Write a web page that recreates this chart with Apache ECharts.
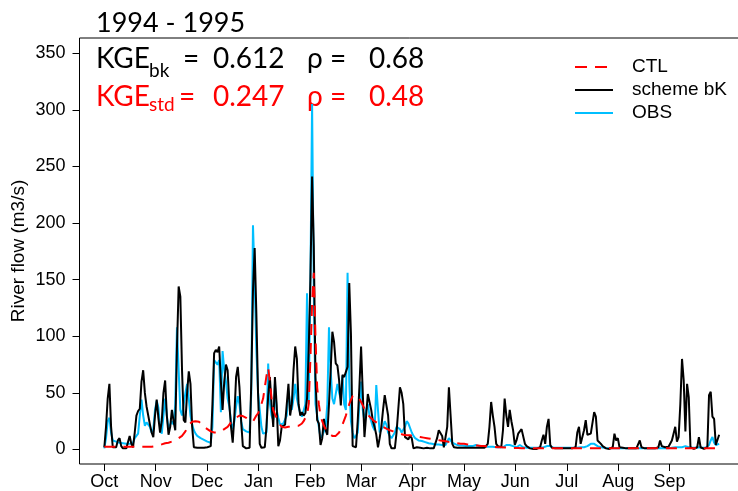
<!DOCTYPE html>
<html>
<head>
<meta charset="utf-8">
<script src="https://cdn.jsdelivr.net/npm/echarts@6/dist/echarts.min.js"></script>
<style>
	html, body { margin: 0; padding: 0; background: #fff; }
	#chart { width: 738px; height: 491px; }
</style>
</head>
<body>
<div id="chart"></div>
<script>
// daily river flow (m3/s), day 0 = 1 Oct 1994
var ctl = [
	2.5, 2.5, 2.5, 2.5, 2.5, 2.5, 2.5, 2.5, 2.5, 2.5,
	2.5, 2.5, 2.5, 2.5, 2.5, 2.5, 2.5, 2.5, 2.5, 2.5,
	2.5, 2.5, 2.5, 2.5, 2.5, 2.5, 2.5, 2.5, 2.5, 2.5,
	3, 3.5, 3.5, 4, 4.5, 5, 5.5, 6, 6, 6.5,
	7, 7.5, 8, 9, 10, 11, 12, 14, 16, 19,
	22, 23.5, 24.5, 25, 25, 25, 24.5, 23.5, 22, 20,
	19, 18, 17, 16, 15.5, 15, 14.7, 15, 15.5, 16,
	17, 18, 19, 20, 22, 24, 26, 27, 28, 29.5,
	30, 30, 29.5, 29, 28, 27, 26, 25, 24.6, 26,
	30, 32, 35, 40, 45, 55, 65, 72, 60, 45,
	35, 31, 28, 25, 22, 20, 19.5, 19.5, 20, 20,
	20, 20.5, 20.5, 21, 21, 21, 22, 23, 25, 28,
	30, 40, 80, 130, 156, 100, 55, 40, 30, 25,
	21, 18, 16, 14, 13, 12, 12, 12, 13, 15,
	18, 22, 26, 30, 35, 40, 44, 47, 48, 48,
	47, 45, 42, 39, 36, 33, 31, 29, 28, 26,
	25, 24, 23, 22, 21, 20, 19, 18.5, 18, 17,
	16.5, 16, 15.5, 15, 14.5, 14, 13.5, 13, 13, 12.5,
	12.5, 12.5, 12, 12, 11.5, 11.5, 11, 11, 10.5, 10.5,
	10, 10, 9.5, 9.5, 9, 9, 8.5, 8.5, 8, 8,
	7.5, 7.5, 7, 7, 6.5, 6.5, 6.5, 6, 6, 5.5,
	5.5, 5, 5, 5, 4.5, 4.5, 4, 4, 4, 3.5,
	3.5, 3.5, 3, 3, 3, 3, 2.8, 2.6, 2.5, 2.4,
	2.3, 2.2, 2.1, 2, 2, 1.9, 1.8, 1.8, 1.7, 1.6,
	1.5, 1.5, 1.5, 1.4, 1.4, 1.3, 1.3, 1.2, 1.2, 1.2,
	1.1, 1.1, 1.1, 1.1, 1.1, 1.1, 1.1, 1.1, 1.1, 1.1,
	1.1, 1.1, 1.1, 1.1, 1.1, 1.1, 1.1, 1.1, 1.1, 1.1,
	1.1, 1.1, 1.1, 1.1, 1.1, 1.1, 1.1, 1.1, 1.1, 1.1,
	1.1, 1.1, 1.1, 1.1, 1.1, 1.1, 1.1, 1.1, 1.1, 1.1,
	1.1, 1.1, 1.1, 1.1, 1.1, 1.1, 1.1, 1.1, 1.1, 1.1,
	1, 1, 1, 1, 1, 1, 1, 1, 1, 1,
	1, 1, 1, 1, 1, 1, 1, 1, 1, 1,
	1, 1, 1, 1, 1, 1, 1, 1, 1, 1,
	1, 1, 1, 1, 1, 1, 1, 1, 1, 1,
	1, 1, 1, 1, 1, 1, 1, 1, 1, 1,
	1, 1, 1, 1, 1, 1, 1, 1, 1, 1,
	1, 1, 1, 1, 1
];
var schemeBk = [
	2, 20, 45, 58, 20, 2, 1, 2, 8, 10,
	3, 1, 1, 1, 2, 12, 5, 2, 15, 30,
	34, 36, 60, 70, 50, 38, 30, 22, 15, 11,
	30, 44, 28, 15, 25, 50, 61, 30, 13, 20,
	35, 25, 17, 90, 144, 135, 70, 26, 24, 50,
	69, 58, 20, 2, 1.5, 1.5, 2, 1.5, 1.5, 1.5,
	2, 2, 2, 3, 40, 85, 88, 86, 91, 60,
	35, 60, 75, 70, 40, 20, 6, 30, 64, 73,
	55, 25, 3, 1.5, 1, 1, 1.5, 60, 140, 178,
	120, 50, 5, 1.5, 1.5, 2, 20, 47, 64, 40,
	20, 64, 40, 3, 8, 20, 20, 22, 40, 58,
	30, 40, 70, 91, 80, 40, 30, 33, 30, 32,
	45, 88, 150, 241, 180, 64, 26, 23, 4, 10,
	27, 17, 13, 40, 70, 104, 95, 76, 74, 61,
	39, 66, 64, 64, 73, 147, 102, 3, 2, 2,
	25, 55, 91, 50, 11, 30, 49, 49, 35, 25,
	20, 13, 2, 10, 20, 35, 48, 48, 30, 5,
	1, 0.5, 1, 15, 35, 55, 50, 40, 11, 11,
	9, 12, 10, 1, 1.5, 2, 2, 1.5, 2, 1,
	1, 1.5, 1, 1, 1, 1, 2, 10, 17, 17,
	12, 2, 1.5, 20, 55, 30, 5, 2, 1.5, 1.5,
	1.5, 1.5, 1.5, 1.5, 1.5, 1.5, 1.5, 1.5, 1.5, 1.5,
	1.5, 1.5, 1.5, 1.5, 1.5, 1.5, 1.5, 5, 20, 42,
	30, 20, 5, 3, 2, 2, 17, 45, 30, 20,
	35, 25, 17, 4, 8, 14, 16, 18, 18, 5,
	3, 1.5, 1, 0.5, 0.5, 0.5, 0.5, 0.5, 2, 8,
	13, 5, 20, 27, 4, 1.5, 1.5, 1, 1, 1,
	1, 1, 1, 1, 1, 1, 1, 1, 2, 2,
	15, 20, 5, 4, 17, 26, 13, 14, 14, 14,
	33, 29, 8, 7, 5, 3, 2, 1, 0.5, 0.5,
	0.5, 2, 14, 8, 10, 2, 1.5, 1.5, 1, 1,
	1, 1, 1, 1, 1, 1, 2, 8, 2, 1,
	1, 1, 1, 1, 1, 1, 1, 1, 2, 8,
	3, 2, 2, 2, 2.5, 2.5, 8, 14, 20, 7,
	11, 40, 80, 61, 16, 58, 46, 2, 1, 0.5,
	1, 2, 11, 2, 1, 0.5, 1, 2, 48, 51,
	29, 27, 4, 5, 13
];
var obs = [
	1, 10, 25, 28, 15, 8, 7, 7, 6, 6,
	6, 5.5, 5, 5, 5, 5, 5, 6, 10, 12,
	14, 30, 44, 30, 21, 24, 25, 20, 15, 18,
	35, 43, 37, 20, 14, 30, 45, 30, 18, 22,
	25, 22, 40, 108, 70, 35, 30, 40, 50, 58,
	45, 30, 22, 17, 14, 12, 11, 10, 9, 8.5,
	8, 7, 6.5, 6, 20, 79, 80, 75, 79, 33,
	87, 70, 60, 45, 38, 25, 18, 25, 38, 47,
	40, 25, 18, 17, 16, 15, 15, 50, 198, 150,
	88, 50, 35, 20, 14, 14, 15, 76, 41, 30,
	26, 58, 35, 28, 22, 22, 23, 23, 30, 52,
	40, 35, 45, 58, 45, 38, 32, 29, 30, 40,
	138, 40, 150, 305, 140, 40, 30, 20, 10, 12,
	13, 20, 40, 108, 70, 45, 40, 40, 58, 50,
	45, 65, 40, 35, 156, 60, 25, 15, 10, 12,
	15, 40, 60, 35, 25, 35, 40, 30, 25, 20,
	17, 57, 35, 15, 15, 20, 25, 22, 15, 12,
	10, 10, 15, 20, 20, 18, 15, 14, 20, 25,
	23, 22, 15, 12, 10, 9, 8, 8, 7.5, 7,
	6.5, 6, 5.5, 5, 5, 5, 4.5, 4.5, 4.5, 4,
	4, 4, 4, 5, 10, 8, 6, 5, 4.5, 4,
	3.5, 3.5, 3.5, 3.5, 3, 3, 3, 3, 3, 3,
	4, 4, 3, 3, 3, 3, 2.5, 2.5, 2.5, 2.5,
	2.5, 2.5, 2, 2, 2, 2, 2, 3, 4, 5,
	4, 3, 3, 2, 2, 3, 4, 3, 2, 2,
	1.5, 1.5, 1.5, 1.5, 1.5, 1.5, 1.5, 1.5, 1.5, 2,
	2, 2, 3, 4, 3, 2, 1.5, 1.5, 1.5, 1.5,
	1.5, 1.5, 1.5, 1.5, 1.5, 1.5, 1.5, 1.5, 1.5, 1.5,
	1.5, 2, 2, 2, 2, 2, 3, 4, 5, 5,
	5, 4, 3, 2, 2, 1.5, 1.5, 1.5, 1, 1,
	1, 1, 1, 1, 1, 1, 1, 1, 1, 1,
	1, 1, 1, 1, 1, 1, 1, 1, 1, 1,
	1, 1, 1, 1, 1, 1, 1, 1, 1, 1,
	1, 1, 1, 1, 1, 1, 1.5, 1.5, 2, 2,
	2, 2, 2, 3, 3, 3, 2, 1.5, 1.5, 1.5,
	1.5, 1.5, 2, 1.5, 1.5, 1.5, 1.5, 2, 4, 8,
	11, 6, 4, 3, 5
];
var monthTicks = [0, 30.4, 60.8, 91.3, 121.7, 152.1, 182.5, 212.9, 243.3, 273.8, 304.2, 334.6];
var monthLabels = ['Oct', 'Nov', 'Dec', 'Jan', 'Feb', 'Mar', 'Apr', 'May', 'Jun', 'Jul', 'Aug', 'Sep'];
var flowTicks = [0, 50, 100, 150, 200, 250, 300, 350];
var seriesNames = ['CTL', 'scheme bK', 'OBS'];
var seriesColors = ['#ff0000', '#000000', '#00bfff'];

function pairs(arr) {
	return arr.map(function (v, i) { return [i, v]; });
}

var txt = function (x, y, text, font, color) {
	return {
		type: 'text', x: x, y: y, silent: true,
		style: { text: text, font: font, fill: color, verticalAlign: 'middle' }
	};
};

// legend drawn by hand: short line sample + name
var legendItems = [];
seriesNames.forEach(function (name, i) {
	var y = 67 + i * 23;
	legendItems.push({
		type: 'line', silent: true,
		shape: { x1: 575, y1: y, x2: 613, y2: y },
		style: { stroke: seriesColors[i], lineWidth: 2, lineDash: i === 0 ? [12, 8] : null }
	});
	legendItems.push(txt(632, y, name, '19px "Liberation Sans"', '#000'));
});

echarts.init(document.getElementById('chart')).setOption({
	animation: false,
	grid: {
		left: 79.5, top: 38, right: -6, bottom: 27,
		outerBoundsMode: 'none', containLabel: false,
		show: true, borderColor: '#000', borderWidth: 1
	},
	xAxis: {
		type: 'value', min: -14.7, max: 378.7,
		axisLine: { show: false, onZero: false },
		splitLine: { show: false },
		axisTick: { show: true, inside: false, length: 7, customValues: monthTicks, lineStyle: { color: '#000' } },
		axisLabel: {
			customValues: monthTicks, margin: 9, color: '#000', fontSize: 18, fontFamily: 'Liberation Sans',
			formatter: function (v) { return monthLabels[monthTicks.indexOf(v)]; }
		}
	},
	yAxis: {
		type: 'value', min: -12.8, max: 363.4,
		name: 'River flow (m3/s)', nameLocation: 'middle', nameGap: 51, nameMoveOverlap: false,
		nameTextStyle: { color: '#000', fontSize: 19, fontFamily: 'Liberation Sans' },
		axisLine: { show: false, onZero: false },
		splitLine: { show: false },
		axisTick: { show: true, inside: false, length: 7, customValues: flowTicks, lineStyle: { color: '#000' } },
		axisLabel: { customValues: flowTicks, margin: 14, color: '#000', fontSize: 18, fontFamily: 'Liberation Sans' }
	},
	graphic: [
		txt(96, 23, '1994 - 1995', '27px Lato', '#000'),
		txt(96, 59, 'KGE', '28px Lato', '#000'),
		txt(149, 71, 'bk', '19px Lato', '#000'),
		txt(183, 59, '=', '28px Lato', '#000'),
		txt(213, 59, '0.612', '28px Lato', '#000'),
		txt(307, 59, 'ρ =', '28px Lato', '#000'),
		txt(369, 59, '0.68', '28px Lato', '#000'),
		txt(96, 97, 'KGE', '28px Lato', '#ff0000'),
		txt(149, 105, 'std', '19px Lato', '#ff0000'),
		txt(179, 97, '=', '28px Lato', '#ff0000'),
		txt(213, 97, '0.247', '28px Lato', '#ff0000'),
		txt(307, 97, 'ρ =', '28px Lato', '#ff0000'),
		txt(369, 97, '0.48', '28px Lato', '#ff0000')
	].concat(legendItems),
	series: [
		{
			name: 'OBS', type: 'line', data: pairs(obs), showSymbol: false, symbol: 'none',
			lineStyle: { color: seriesColors[2], width: 2 }, z: 2
		},
		{
			name: 'scheme bK', type: 'line', data: pairs(schemeBk), showSymbol: false, symbol: 'none',
			lineStyle: { color: seriesColors[1], width: 2 }, z: 3
		},
		{
			name: 'CTL', type: 'line', data: pairs(ctl), showSymbol: false, symbol: 'none',
			lineStyle: { color: seriesColors[0], width: 2, type: [11, 8] }, z: 4
		}
	]
});
</script>
</body>
</html>
